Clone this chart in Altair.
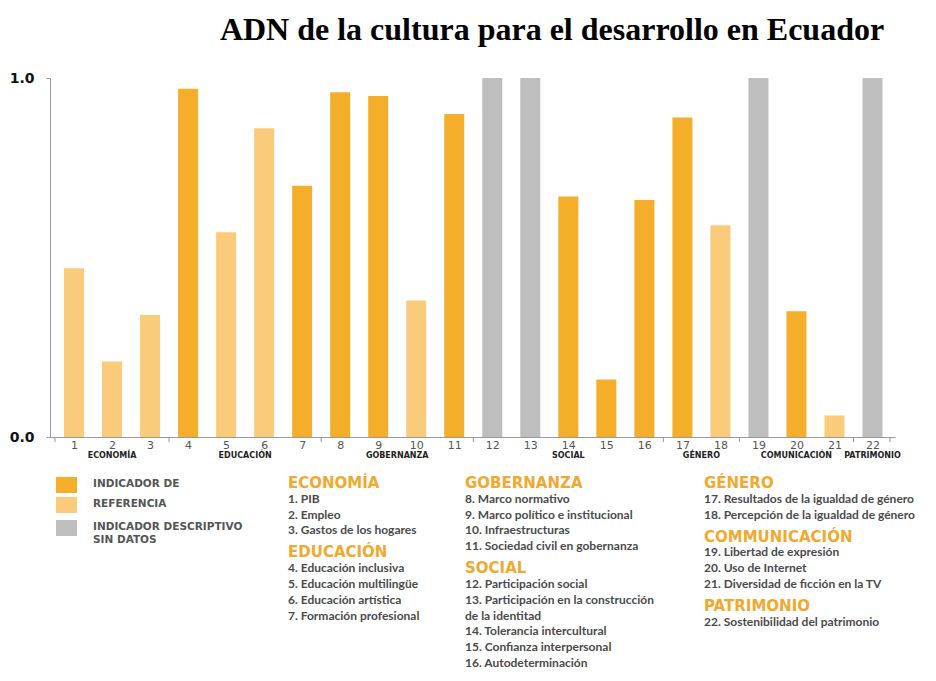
import altair as alt
import pandas as pd

# ---------------- data ----------------
TITLE = "ADN de la cultura para el desarrollo en Ecuador"

indices = list(range(1, 23))
values = [0.47, 0.21, 0.34, 0.97, 0.57, 0.86, 0.70, 0.96, 0.95, 0.38, 0.90,
          1.00, 1.00, 0.67, 0.16, 0.66, 0.89, 0.59, 1.00, 0.35, 0.06, 1.00]
kinds = ["R", "R", "R", "D", "R", "R", "D", "D", "D", "R", "D",
         "G", "G", "D", "D", "D", "D", "R", "G", "D", "R", "G"]

groups = ["ECONOMÍA", "EDUCACIÓN", "GOBERNANZA", "SOCIAL", "GÉNERO",
          "COMUNICACIÓN", "PATRIMONIO"]
group_members = [[1, 2, 3], [4, 5, 6, 7], [8, 9, 10, 11], [12, 13, 14, 15, 16],
                 [17, 18], [19, 20, 21], [22]]
group_boundaries = [0.5, 3.5, 7.5, 11.5, 16.5, 18.5, 21.5, 22.46]

list_headings = ["ECONOMÍA", "EDUCACIÓN", "GOBERNANZA", "SOCIAL", "GÉNERO",
                 "COMMUNICACIÓN", "PATRIMONIO"]
indicator_names = [
    "PIB", "Empleo", "Gastos de los hogares",
    "Educación inclusiva", "Educación multilingüe", "Educación artística",
    "Formación profesional",
    "Marco normativo", "Marco político e institucional", "Infraestructuras",
    "Sociedad civil en gobernanza",
    "Participación social", "Participación en la construcción\nde la identitad",
    "Tolerancia intercultural", "Confianza interpersonal", "Autodeterminación",
    "Resultados de la igualdad de género", "Percepción de la igualdad de género",
    "Libertad de expresión", "Uso de Internet", "Diversidad de ficción en la TV",
    "Sostenibilidad del patrimonio",
]
list_columns = [[0, 1], [2, 3], [4, 5, 6]]  # which headings go in which column

legend_labels = ["INDICADOR DE", "REFERENCIA", "INDICADOR DESCRIPTIVO\nSIN DATOS"]
legend_kinds = ["D", "R", "G"]

kind_domain = ["D", "R", "G"]
kind_colors = ["#F5AE2A", "#FBCB7C", "#BEBEBE"]

# ---------------- layout (pixels relative to plot origin) ----------------
W, H = 845, 359
XDOM = [0.5, 22.46]

bars = pd.DataFrame({"idx": indices, "value": values, "kind": kinds})

grp_df = pd.DataFrame({
    "label": groups,
    "idx": [sum(m) / len(m) for m in group_members],
})
bnd_df = pd.DataFrame({"b": group_boundaries})

# legend rows
leg_rows = []
sq_tops = [399, 419, 442]
for lab, k, top in zip(legend_labels, legend_kinds, sq_tops):
    leg_rows.append({"x": 6, "x2": 27, "y": top, "y2": top + 16, "kind": k})
leg_sq = pd.DataFrame(leg_rows)
leg_txt_rows = []
for lab, top in zip(legend_labels, sq_tops):
    for j, line in enumerate(lab.split("\n")):
        leg_txt_rows.append({"x": 43, "y": top + 7 + j * 13, "t": line})
leg_txt = pd.DataFrame(leg_txt_rows)

# indicator list
col_x = [238, 415, 654]
STEP, GAP, Y0 = 15.8, 22, 405
head_rows, item_rows = [], []
for cx, heads in zip(col_x, list_columns):
    y = Y0
    for hi in heads:
        head_rows.append({"x": cx, "y": y, "t": list_headings[hi]})
        for m in group_members[hi]:
            lines = indicator_names[m - 1].split("\n")
            for j, line in enumerate(lines):
                y += STEP
                txt = f"{m}. {line}" if j == 0 else line
                item_rows.append({"x": cx, "y": y, "t": txt})
        y += GAP
heads_df = pd.DataFrame(head_rows)
items_df = pd.DataFrame(item_rows)

# ---------------- chart ----------------
xs = alt.Scale(domain=XDOM, nice=False, zero=False)
ys = alt.Scale(domain=[0, 1], nice=False)

bar_layer = alt.Chart(bars).mark_bar(width=20).encode(
    x=alt.X("idx:Q", scale=xs, title=None,
            axis=alt.Axis(values=indices, format="d", tickSize=0, labelPadding=2,
                          labelFontSize=11, labelColor="#555", labelFont="DejaVu Sans",
                          domainColor="#999", grid=False, labelFlush=False)),
    y=alt.Y("value:Q", scale=ys, title=None,
            axis=alt.Axis(values=[0, 1], format=".1f", tickSize=4, tickColor="#999",
                          labelPadding=12, labelFontSize=14, labelFont="DejaVu Sans",
                          labelFontWeight="bold", labelColor="#111",
                          domainColor="#999", grid=False)),
    color=alt.Color("kind:N", scale=alt.Scale(domain=kind_domain, range=kind_colors),
                    legend=None),
)

bnd_layer = alt.Chart(bnd_df).mark_rule(color="#999", strokeWidth=1).encode(
    x=alt.X("b:Q", scale=xs),
    y=alt.value(H),
    y2=alt.value(H + 5),
)

grp_layer = alt.Chart(grp_df).mark_text(
    font="DejaVu Sans", fontSize=8, fontWeight="bold", color="#222", baseline="middle"
).encode(
    x=alt.X("idx:Q", scale=xs),
    y=alt.value(H + 19),
    text="label:N",
)

title_layer = alt.Chart(pd.DataFrame({"t": [TITLE]})).mark_text(
    font="Liberation Serif", fontSize=32, fontWeight="bold", color="#000",
    baseline="alphabetic", align="center"
).encode(x=alt.value(502), y=alt.value(-38), text="t:N")

leg_sq_layer = alt.Chart(leg_sq).mark_rect().encode(
    x=alt.X("x:Q", scale=None, axis=None),
    x2="x2:Q",
    y=alt.Y("y:Q", scale=None, axis=None),
    y2="y2:Q",
    color=alt.Color("kind:N", scale=alt.Scale(domain=kind_domain, range=kind_colors),
                    legend=None),
)

leg_txt_layer = alt.Chart(leg_txt).mark_text(
    font="DejaVu Sans", fontSize=10.5, fontWeight="bold", color="#555",
    align="left", baseline="middle"
).encode(
    x=alt.X("x:Q", scale=None, axis=None),
    y=alt.Y("y:Q", scale=None, axis=None),
    text="t:N",
)

heads_layer = alt.Chart(heads_df).mark_text(
    font="DejaVu Sans", fontSize=15, fontWeight="bold", color="#F0A92E",
    align="left", baseline="middle"
).encode(
    x=alt.X("x:Q", scale=None, axis=None),
    y=alt.Y("y:Q", scale=None, axis=None),
    text="t:N",
)

items_layer = alt.Chart(items_df).mark_text(
    font="Lato", fontSize=12, fontWeight="bold", color="#4a4a4a",
    align="left", baseline="middle"
).encode(
    x=alt.X("x:Q", scale=None, axis=None),
    y=alt.Y("y:Q", scale=None, axis=None),
    text="t:N",
)

chart = alt.layer(
    bar_layer, bnd_layer, grp_layer, title_layer,
    leg_sq_layer, leg_txt_layer, heads_layer, items_layer,
).properties(
    width=W, height=H,
    autosize=alt.AutoSizeParams(type="none"),
    padding={"left": 42, "top": 70, "right": 33, "bottom": 236},
).configure(background="white").configure_view(stroke=None)

chart.save("out.html", embed_options={"renderer": "svg", "actions": False})
